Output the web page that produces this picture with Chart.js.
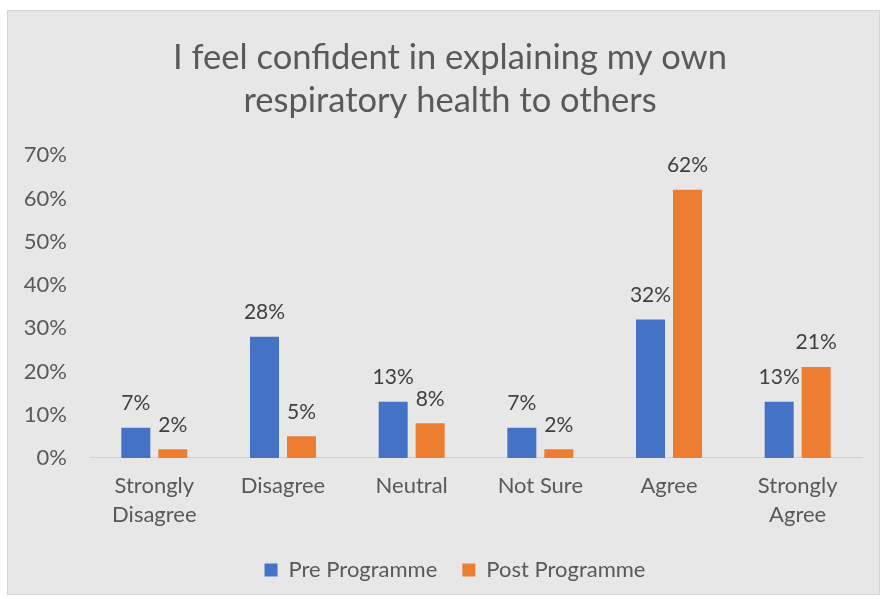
<!DOCTYPE html>
<html>
<head>
<meta charset="utf-8">
<script src="https://cdn.jsdelivr.net/npm/chart.js@4.4.1/dist/chart.umd.min.js"></script>
<style>
  html, body { margin: 0; padding: 0; background: #ffffff; }
  #frame {
    position: absolute; left: 7px; top: 10px;
    width: 871px; height: 583px;
    background: #e7e7e7; border: 1px solid #d4d4d4;
  }
  #grafica { display: block; }
</style>
</head>
<body>
<div id="frame"><canvas id="grafica" width="871" height="583"></canvas></div>
<script>
// Categorias de respuesta y porcentajes por grupo
const categorias = [["Strongly", "Disagree"], "Disagree", "Neutral", "Not Sure", "Agree", ["Strongly", "Agree"]];
const prePrograma = [7, 28, 13, 7, 32, 13];
const postPrograma = [2, 5, 8, 2, 62, 21];
const ticksY = [0, 10, 20, 30, 40, 50, 60, 70];

const fuente = "Lato, 'Open Sans', sans-serif";

// Etiquetas con el valor encima de cada barra
const etiquetasValor = {
  id: 'etiquetasValor',
  afterDatasetsDraw(chart) {
    const ctx = chart.ctx;
    ctx.save();
    ctx.font = `21px ${fuente}`;
    ctx.fillStyle = '#404040';
    ctx.textAlign = 'center';
    ctx.textBaseline = 'bottom';
    chart.data.datasets.forEach((ds, i) => {
      chart.getDatasetMeta(i).data.forEach((bar, j) => {
        ctx.fillText(ds.data[j] + '%', bar.x, bar.y - 14);
      });
    });
    ctx.restore();
  }
};

// Ajustes tras el layout: que las etiquetas del eje Y no se recorten
// y mover un poco la leyenda a la derecha
const ajusteLayout = {
  id: 'ajusteLayout',
  afterLayout(chart) {
    chart.scales.y.left = 0;
    chart.legend.left += 5;
    chart.legend.right += 5;
  }
};

const ctx = document.getElementById('grafica').getContext('2d');
new Chart(ctx, {
  type: 'bar',
  data: {
    labels: categorias,
    datasets: [
      { label: 'Pre Programme', data: prePrograma, backgroundColor: '#4472c4' },
      { label: 'Post Programme', data: postPrograma, backgroundColor: '#ed7d31' }
    ]
  },
  options: {
    responsive: false,
    animation: false,
    categoryPercentage: 0.575,
    barPercentage: 0.784,
    layout: { padding: { top: 25, right: 17, left: 30, bottom: 3 } },
    plugins: {
      title: {
        display: true,
        text: ['I feel confident in explaining my own', 'respiratory health to others'],
        color: '#595959',
        font: { family: fuente, size: 34.5, weight: 'normal', lineHeight: 1.25 },
        padding: { top: 0, bottom: 33 }
      },
      legend: {
        position: 'bottom',
        labels: {
          color: '#595959',
          font: { family: fuente, size: 22 },
          boxWidth: 13, boxHeight: 13,
          padding: 25
        }
      },
      tooltip: { enabled: false }
    },
    scales: {
      x: {
        grid: { display: false },
        border: { color: '#d0d0d0', width: 1 },
        ticks: {
          color: '#595959',
          font: { family: fuente, size: 22, lineHeight: 1.32 },
          padding: 5,
          maxRotation: 0
        }
      },
      y: {
        min: 0, max: 70,
        afterBuildTicks(scale) { scale.ticks = ticksY.map(v => ({ value: v })); },
        afterFit(scale) { scale.width = 52; },
        grid: { display: false },
        border: { display: false },
        ticks: {
          color: '#595959',
          font: { family: fuente, size: 22 },
          padding: 15,
          callback: v => v + '%'
        }
      }
    }
  },
  plugins: [etiquetasValor, ajusteLayout]
});
</script>
</body>
</html>
